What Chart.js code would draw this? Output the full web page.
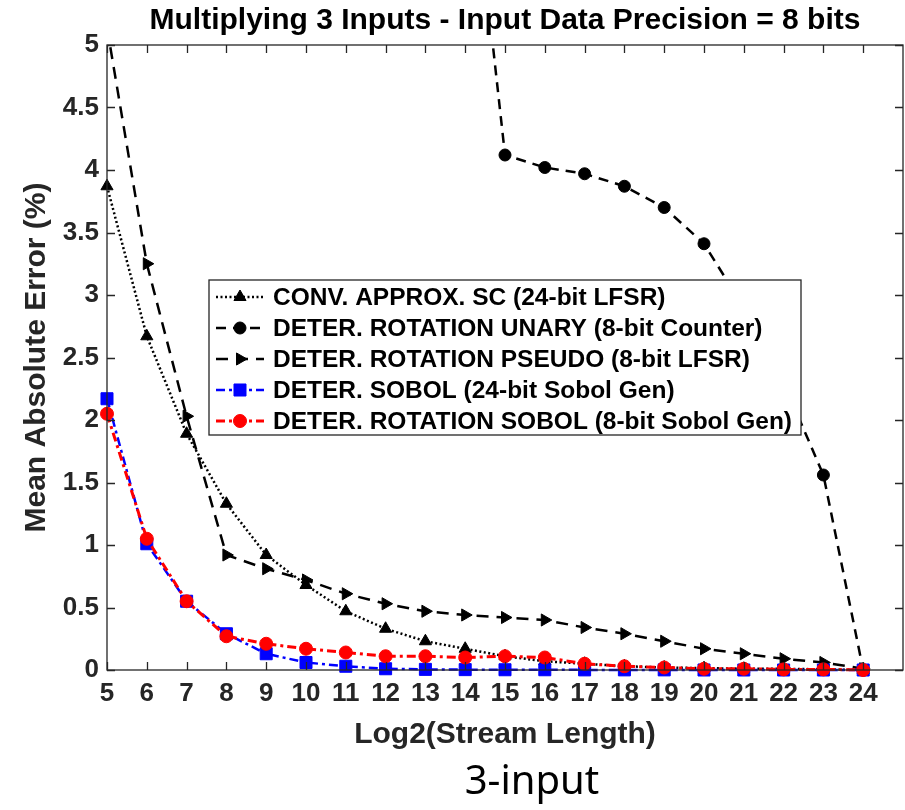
<!DOCTYPE html>
<html><head><meta charset="utf-8">
<script src="https://cdn.jsdelivr.net/npm/chart.js@4/dist/chart.umd.min.js"></script>
<style>html,body{margin:0;padding:0;background:#fff;}</style>
</head><body>
<canvas id="c" width="905" height="810"></canvas>
<script>
// ---- data ----
const xTicks = [5,6,7,8,9,10,11,12,13,14,15,16,17,18,19,20,21,22,23,24];
const yTickLabels = ['0','0.5','1','1.5','2','2.5','3','3.5','4','4.5','5'];
const convApprox   = [3.87,2.67,1.89,1.33,0.92,0.68,0.47,0.33,0.23,0.17,0.11,0.07,0.05,0.03,0.02,0.015,0.01,0.01,0.005,0.0];
const rotUnary     = [null,null,null,null,null,null,null,null,null,7.0,4.12,4.02,3.97,3.87,3.70,3.41,2.9,2.3,1.56,0.0];
const rotPseudo    = [5.14,3.25,2.03,0.92,0.81,0.72,0.61,0.53,0.47,0.44,0.42,0.40,0.34,0.29,0.23,0.17,0.13,0.09,0.06,0.01];
const sobol24      = [2.17,1.01,0.55,0.29,0.13,0.06,0.03,0.01,0.005,0.003,0.002,0.002,0.001,0.001,0.001,0,0,0,0,0];
const rotSobol8    = [2.05,1.05,0.55,0.27,0.21,0.17,0.14,0.11,0.11,0.10,0.11,0.10,0.05,0.03,0.02,0.01,0.01,0.005,0.005,0.0];
const seriesLabels = [
  'CONV. APPROX. SC (24-bit LFSR)',
  'DETER. ROTATION UNARY (8-bit Counter)',
  'DETER. ROTATION PSEUDO (8-bit LFSR)',
  'DETER. SOBOL (24-bit Sobol Gen)',
  'DETER. ROTATION SOBOL (8-bit Sobol Gen)'
];
const chartTitle = 'Multiplying 3 Inputs - Input Data Precision = 8 bits';
const xTitle = 'Log2(Stream Length)';
const yTitle = 'Mean Absolute Error (%)';
const caption = '3-input';

const FONT = "'Liberation Sans', Arial, sans-serif";
const pts = arr => xTicks.map((x,i) => ({x, y: arr[i]}));
const clip = {left: 10, top: 0, right: 10, bottom: 12};

const datasets = [
  {label: seriesLabels[0], data: pts(convApprox), borderColor:'#000', backgroundColor:'#000',
   borderWidth:2.5, borderDash:[2,2.5], pointStyle:'triangle', pointRadius:7, pointRotation:0, order:3},
  {label: seriesLabels[1], data: pts(rotUnary), borderColor:'#000', backgroundColor:'#000',
   borderWidth:2.5, borderDash:[10,7], pointStyle:'circle', pointRadius:6, order:5},
  {label: seriesLabels[2], data: pts(rotPseudo), borderColor:'#000', backgroundColor:'#000',
   borderWidth:2.5, borderDash:[12,8], pointStyle:'triangle', pointRadius:7, pointRotation:90, order:4},
  {label: seriesLabels[3], data: pts(sobol24), borderColor:'#0000ff', backgroundColor:'#0000ff',
   borderWidth:2.5, borderDash:[9,4,3,4], pointStyle:'rect', pointRadius:8.5, order:2},
  {label: seriesLabels[4], data: pts(rotSobol8), borderColor:'#ff0000', backgroundColor:'#ff0000',
   borderWidth:3, borderDash:[9,4,3,4], pointStyle:'circle', pointRadius:6.5, order:1}
].map(d => Object.assign(d, {
  pointBackgroundColor: d.borderColor, pointBorderColor: d.borderColor, pointBorderWidth: 1,
  fill:false, tension:0, clip, spanGaps:false
}));

const framePlugin = {
  id: 'frame',
  afterDatasetsDraw(chart) {
    const {ctx, chartArea:{left,right,top,bottom}, scales:{x,y}} = chart;
    ctx.save();
    ctx.strokeStyle = '#262626';
    ctx.lineWidth = 1.3;
    ctx.strokeRect(left, top, right-left, bottom-top);
    ctx.beginPath();
    x.ticks.forEach(t => {
      const px = Math.round(x.getPixelForValue(t.value)) + 0.5;
      ctx.moveTo(px, bottom); ctx.lineTo(px, bottom-8);
      ctx.moveTo(px, top); ctx.lineTo(px, top+8);
    });
    y.ticks.forEach(t => {
      const py = Math.round(y.getPixelForValue(t.value)) + 0.5;
      ctx.moveTo(left, py); ctx.lineTo(left+8, py);
      ctx.moveTo(right, py); ctx.lineTo(right-8, py);
    });
    ctx.stroke();

    // legend box
    const bx = 209, by = 280, bw = 592, bh = 155;
    ctx.fillStyle = '#fff';
    ctx.fillRect(bx, by, bw, bh);
    ctx.strokeStyle = '#262626';
    ctx.lineWidth = 1.3;
    ctx.strokeRect(bx, by, bw, bh);
    chart.data.datasets.forEach((ds, i) => {
      const cy = by + 17 + i*31;
      ctx.save();
      ctx.strokeStyle = ds.borderColor;
      ctx.lineWidth = ds.borderWidth;
      ctx.setLineDash(ds.borderDash || []);
      ctx.beginPath(); ctx.moveTo(216, cy); ctx.lineTo(264, cy); ctx.stroke();
      ctx.setLineDash([]);
      ctx.fillStyle = ds.borderColor;
      ctx.strokeStyle = ds.borderColor;
      ctx.lineWidth = 1;
      Chart.helpers.drawPoint(ctx, {pointStyle: ds.pointStyle, radius: ds.pointRadius,
        rotation: ds.pointRotation || 0, borderWidth: 1}, 240, cy);
      ctx.restore();
      ctx.fillStyle = '#000';
      ctx.font = "bold 24.5px " + FONT;
      ctx.textAlign = 'left';
      ctx.textBaseline = 'middle';
      ctx.fillText(ds.label, 273, cy + 1);
    });
    ctx.restore();
  },
  afterDraw(chart) {
    const {ctx} = chart;
    ctx.save();
    ctx.fillStyle = '#000';
    ctx.font = "40px 'Noto Sans', sans-serif";
    ctx.textAlign = 'center';
    ctx.textBaseline = 'middle';
    ctx.fillText(caption, 532, 783);
    ctx.restore();
  }
};

new Chart(document.getElementById('c'), {
  type: 'line',
  data: {datasets},
  options: {
    responsive: false,
    animation: false,
    devicePixelRatio: 1,
    layout: {autoPadding: false, padding: {left: 0, right: 2, top: 0, bottom: 53}},
    plugins: {
      legend: {display: false},
      tooltip: {enabled: false},
      title: {display: true, text: chartTitle, fullSize: false, color: '#000',
        font: {family: FONT, weight: 'bold', size: 30}, padding: {top: 3, bottom: 6}}
    },
    scales: {
      x: {
        type: 'linear', min: 5, max: 25,
        afterBuildTicks: s => { s.ticks = xTicks.map(v => ({value: v})); },
        ticks: {autoSkip: false, maxRotation: 0, padding: 8, color: '#262626',
          font: {family: FONT, weight: 'bold', size: 26}},
        grid: {drawOnChartArea: false, drawTicks: false},
        border: {display: false},
        title: {display: true, text: xTitle, color: '#262626',
          font: {family: FONT, weight: 'bold', size: 30}, padding: {top: 8, bottom: 4}},
        afterFit: s => { s.height = 87; s.paddingLeft = 0; s.paddingRight = 0; }
      },
      y: {
        min: 0, max: 5,
        ticks: {stepSize: 0.5, padding: 8, color: '#262626',
          font: {family: FONT, weight: 'bold', size: 26},
          callback: (v, i) => yTickLabels[Math.round(v * 2)]},
        grid: {drawOnChartArea: false, drawTicks: false},
        border: {display: false},
        title: {display: true, text: yTitle, color: '#262626',
          font: {family: FONT, weight: 'bold', size: 30}, padding: {top: 19, bottom: 0}},
        afterFit: s => { s.width = 107; s.paddingTop = 0; s.paddingBottom = 0; }
      }
    }
  },
  plugins: [framePlugin]
});
</script>
</body></html>
